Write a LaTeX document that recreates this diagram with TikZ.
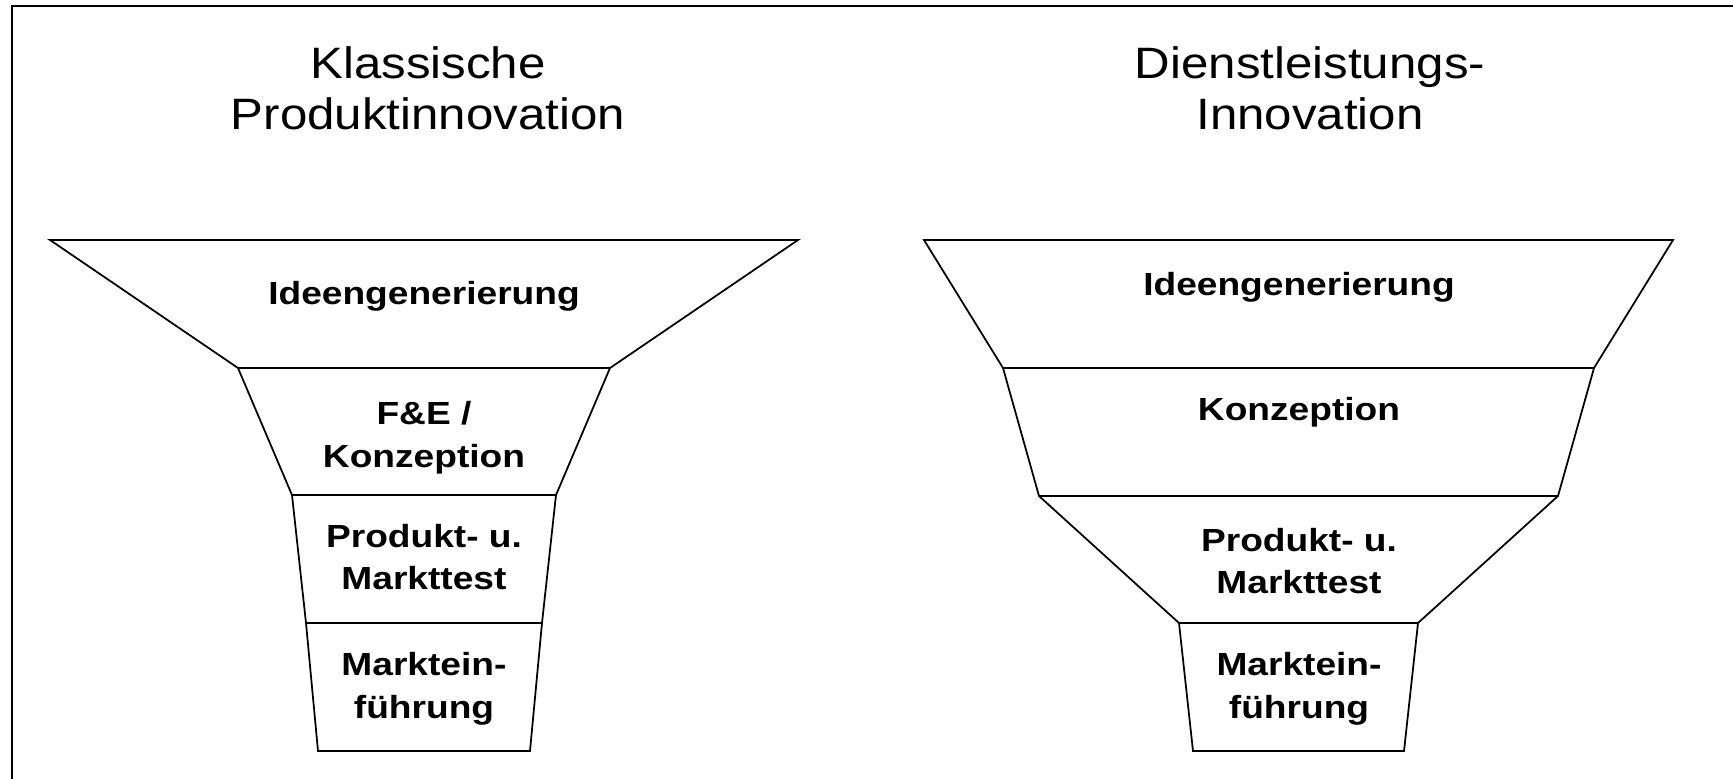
\documentclass[tikz,border=0pt]{standalone}
\usepackage{fontspec}
\setmainfont{Liberation Sans}
\newfontfamily\titlefont[FakeStretch=1.12]{Liberation Sans}
\newfontfamily\stagefont[FakeStretch=1.16]{Liberation Sans}
\begin{document}
\begin{tikzpicture}[x=0.01cm,y=-0.01cm,
  frame/.style={draw=black,line width=0.7pt},
  funnel/.style={draw=black,line width=0.5pt,line join=miter},
  heading/.style={align=center,inner sep=0pt,
    font=\titlefont\fontsize{12.5pt}{14.5pt}\selectfont},
  stage/.style={align=center,inner sep=0pt,
    font=\stagefont\bfseries\fontsize{9.1pt}{12.2pt}\selectfont}]
\useasboundingbox (0,0) rectangle (1733,778);
\clip (0,0) rectangle (1733,778);
% outer frame (runs past the right and bottom edges)
\draw[frame] (12,6) rectangle (1800,850);

% ---- classic product innovation funnel
\coordinate (L0a) at (50,240);  \coordinate (L0b) at (798,240);
\coordinate (L1a) at (238,368); \coordinate (L1b) at (610,368);
\coordinate (L2a) at (292,495); \coordinate (L2b) at (556,495);
\coordinate (L3a) at (306,623); \coordinate (L3b) at (542,623);
\coordinate (L4a) at (318,751); \coordinate (L4b) at (530,751);
\draw[funnel] (L0a) -- (L1a) -- (L2a) -- (L3a) -- (L4a) -- (L4b)
  -- (L3b) -- (L2b) -- (L1b) -- (L0b) -- cycle;
\draw[funnel] (L1a) -- (L1b);
\draw[funnel] (L2a) -- (L2b);
\draw[funnel] (L3a) -- (L3b);

% ---- service innovation funnel
\coordinate (R0a) at (924,240);  \coordinate (R0b) at (1673,240);
\coordinate (R1a) at (1003,368); \coordinate (R1b) at (1594,368);
\coordinate (R2a) at (1039,496); \coordinate (R2b) at (1558,496);
\coordinate (R3a) at (1179,623); \coordinate (R3b) at (1418,623);
\coordinate (R4a) at (1193,751); \coordinate (R4b) at (1404,751);
\draw[funnel] (R0a) -- (R1a) -- (R2a) -- (R3a) -- (R4a) -- (R4b)
  -- (R3b) -- (R2b) -- (R1b) -- (R0b) -- cycle;
\draw[funnel] (R1a) -- (R1b);
\draw[funnel] (R2a) -- (R2b);
\draw[funnel] (R3a) -- (R3b);

% ---- headings
\node[heading] (titleL) at (428,88) {Klassische\\Produktinnovation};
\node[heading] (titleR) at (1310,88) {Dienstleistungs-\\Innovation};

% ---- stage labels, left
\node[stage] (ideaL) at (424,296) {Ideengenerierung};
\node[stage] (rdL)   at (424,438) {F\&E /\\Konzeption};
\node[stage] (testL) at (424,557) {Produkt- u.\\Markttest};
\node[stage] (launchL) at (424,689) {Marktein-\\führung};

% ---- stage labels, right
\node[stage] (ideaR) at (1299,287) {Ideengenerierung};
\node[stage] (conceptR) at (1299,412) {Konzeption};
\node[stage] (testR) at (1299,561) {Produkt- u.\\Markttest};
\node[stage] (launchR) at (1299,689) {Marktein-\\führung};
\end{tikzpicture}
\end{document}
